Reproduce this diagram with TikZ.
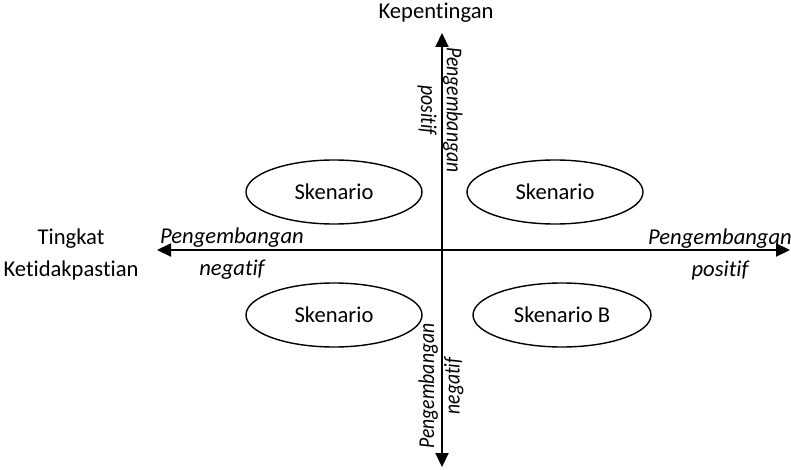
\documentclass[tikz,border=0pt]{standalone}
\usepackage{fontspec}
\setmainfont{Carlito}[Ligatures=NoCommon]
% condensed variant for the labels set along the vertical axis
\newfontfamily\narrowfont{Carlito}[FakeStretch=0.87,Ligatures=NoCommon]
\usetikzlibrary{arrows.meta,shapes.geometric}

\begin{document}
\begin{tikzpicture}[x=0.5pt,y=-0.5pt,
  font=\fontsize{11.3}{16}\selectfont,
  axis/.style={line width=1.1pt,
    {Triangle[length=7pt,width=6.5pt]}-{Triangle[length=7pt,width=6.5pt]}},
  scen/.style={ellipse,draw,line width=0.7pt,inner sep=0pt,
    minimum width=88pt,minimum height=32pt},
  lbl/.style={align=center,inner sep=0pt},
  ital/.style={lbl,font=\fontsize{11.3}{16}\selectfont\itshape},
  vital/.style={lbl,font=\narrowfont\fontsize{11.3}{12.8}\selectfont\itshape}]

  \useasboundingbox (0,0) rectangle (791,470);

  % axis end points
  \coordinate (top) at (442,33);
  \coordinate (bot) at (442,467);
  \coordinate (lft) at (157,250);
  \coordinate (rgt) at (790,250);

  % the two axes
  \draw[axis] (bot) -- (top);
  \draw[axis] (lft) -- (rgt);

  % axis titles
  \node[lbl] (kep) at (436,13) {Kepentingan};
  \node[lbl] (ting) at (71,254) {Tingkat\\Ketidakpastian};

  % direction labels along the axes
  \node[ital] (hneg) at (232,254) {Pengembangan\\negatif};
  \node[ital] (hpos) at (720,254) {Pengembangan\\positif};
  \node[vital,rotate=-90] (vpos) at (440,110) {Pengembangan\\positif};
  \node[vital,rotate=90] (vneg) at (441,386) {Pengembangan\\negatif};

  % scenario quadrants
  \node[scen] (s1) at (334,192) {Skenario};
  \node[scen] (s2) at (555,192) {Skenario};
  \node[scen] (s3) at (334,315) {Skenario};
  \node[scen,minimum width=89pt] (s4) at (562,315) {Skenario B};
\end{tikzpicture}
\end{document}
